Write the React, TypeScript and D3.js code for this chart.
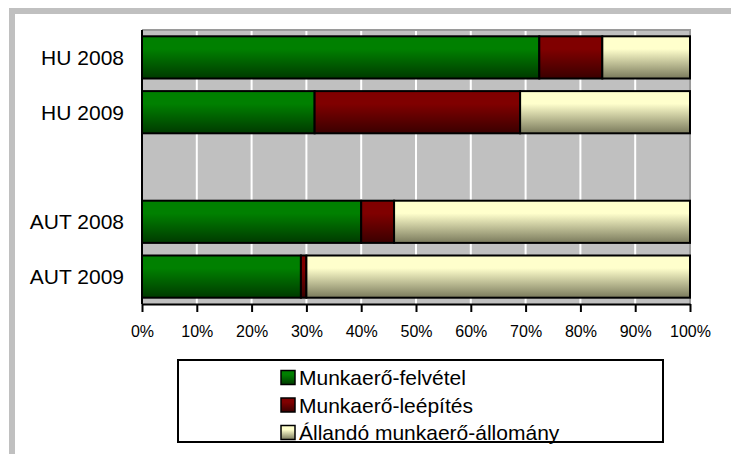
import { useEffect, useRef } from "react";
import * as d3 from "d3";

const categories = ["HU 2008", "HU 2009", "", "AUT 2008", "AUT 2009"];
const hiring = [72.5, 31.5, 0, 40, 29];
const layoffs = [11.5, 37.5, 0, 6, 1];
const permanent = [16, 31, 0, 54, 70];
const seriesNames = [
  "Munkaerő-felvétel",
  "Munkaerő-leépítés",
  "Állandó munkaerő-állomány",
];
const xTicks = [0, 10, 20, 30, 40, 50, 60, 70, 80, 90, 100];

const colors = [
  { top: "#008000", bottom: "#003a00" },
  { top: "#800000", bottom: "#3a0000" },
  { top: "#ffffcc", bottom: "#7a7a5c" },
];

const FONT = "Liberation Sans, Arial, sans-serif";

const Chart = () => {
  const svgRef = useRef<SVGSVGElement>(null);

  useEffect(() => {
    if (!svgRef.current) return;
    const svg = d3.select(svgRef.current);
    svg.selectAll("*").remove();

    const W = 731;
    const H = 454;
    const margin = { left: 142, right: 41, top: 30, bottom: 150 };
    const width = W - margin.left - margin.right;
    const height = H - margin.top - margin.bottom;

    svg.attr("width", W).attr("height", H);

    // gradients for bar fills
    const defs = svg.append("defs");
    colors.forEach((c, i) => {
      const g = defs
        .append("linearGradient")
        .attr("id", `grad${i}`)
        .attr("x1", 0)
        .attr("y1", 0)
        .attr("x2", 0)
        .attr("y2", 1);
      g.append("stop").attr("offset", "0%").attr("stop-color", c.top);
      g.append("stop").attr("offset", "30%").attr("stop-color", c.top);
      g.append("stop").attr("offset", "100%").attr("stop-color", c.bottom);
    });

    // outer frame
    svg
      .append("rect")
      .attr("x", 12)
      .attr("y", 11)
      .attr("width", 900)
      .attr("height", 900)
      .attr("fill", "none")
      .attr("stroke", "#c0c0c0")
      .attr("stroke-width", 6);

    const chart = svg
      .append("g")
      .attr("transform", `translate(${margin.left},${margin.top})`);

    const x = d3.scaleLinear().domain([0, 100]).range([0, width]);
    const y = d3
      .scaleBand()
      .domain(categories.map((d, i) => String(i)))
      .range([0, height])
      .paddingInner(0.23)
      .paddingOuter(0.115);

    // plot background
    chart
      .append("rect")
      .attr("width", width)
      .attr("height", height)
      .attr("fill", "#c0c0c0");

    // gridlines
    chart
      .selectAll(".grid")
      .data(xTicks.slice(1, -1))
      .join("line")
      .attr("x1", (d) => x(d))
      .attr("x2", (d) => x(d))
      .attr("y1", 0)
      .attr("y2", height)
      .attr("stroke", "#ffffff")
      .attr("stroke-width", 2);

    // plot border top/right
    chart
      .append("path")
      .attr("d", `M0,0H${width}V${height}`)
      .attr("fill", "none")
      .attr("stroke", "#9a9a9a")
      .attr("stroke-width", 2);

    // stacked bars
    const rows = categories.map((c, i) => ({
      key: String(i),
      vals: [hiring[i], layoffs[i], permanent[i]],
    }));
    rows.forEach((r) => {
      if (r.vals.every((v) => v === 0)) return;
      let acc = 0;
      r.vals.forEach((v, si) => {
        chart
          .append("rect")
          .attr("x", x(acc))
          .attr("y", y(r.key)!)
          .attr("width", x(acc + v) - x(acc))
          .attr("height", y.bandwidth())
          .attr("fill", `url(#grad${si})`)
          .attr("stroke", "#000")
          .attr("stroke-width", 2);
        acc += v;
      });
    });

    // x axis
    const xAxis = chart
      .append("g")
      .attr("transform", `translate(0,${height})`)
      .call(
        d3
          .axisBottom(x)
          .tickValues(xTicks)
          .tickSize(8)
          .tickSizeOuter(0)
          .tickFormat((d) => `${d}%`)
      );
    xAxis.select(".domain").attr("stroke", "#000").attr("stroke-width", 2);
    xAxis.selectAll(".tick line").attr("stroke", "#000").attr("stroke-width", 2);
    xAxis
      .selectAll("text")
      .attr("y", 22)
      .attr("fill", "#000")
      .style("font-family", FONT)
      .style("font-size", "16px");

    // y axis line
    chart
      .append("line")
      .attr("x1", 0)
      .attr("x2", 0)
      .attr("y1", 0)
      .attr("y2", height)
      .attr("stroke", "#000")
      .attr("stroke-width", 2);

    // category labels
    chart
      .selectAll(".cat")
      .data(rows)
      .join("text")
      .attr("x", -18)
      .attr("y", (d) => y(d.key)! + y.bandwidth() / 2)
      .attr("dy", "0.36em")
      .attr("text-anchor", "end")
      .style("font-family", FONT)
      .style("font-size", "21px")
      .text((d, i) => categories[i]);

    // legend
    const legend = svg.append("g");
    legend
      .append("rect")
      .attr("x", 178)
      .attr("y", 360)
      .attr("width", 485)
      .attr("height", 82)
      .attr("fill", "#fff")
      .attr("stroke", "#000")
      .attr("stroke-width", 2);
    seriesNames.forEach((name, i) => {
      const cy = 377.5 + i * 27.5;
      legend
        .append("rect")
        .attr("x", 281)
        .attr("y", cy - 7)
        .attr("width", 14)
        .attr("height", 14)
        .attr("fill", `url(#grad${i})`)
        .attr("stroke", "#000")
        .attr("stroke-width", 1.5);
      legend
        .append("text")
        .attr("x", 299)
        .attr("y", cy)
        .attr("dy", "0.36em")
        .style("font-family", FONT)
        .style("font-size", "21px")
        .text(name);
    });
  }, []);

  return (
    <svg
      ref={svgRef}
      style={{ position: "absolute", left: 0, top: 0, display: "block" }}
    ></svg>
  );
};

export default function App() {
  return <Chart />;
}
